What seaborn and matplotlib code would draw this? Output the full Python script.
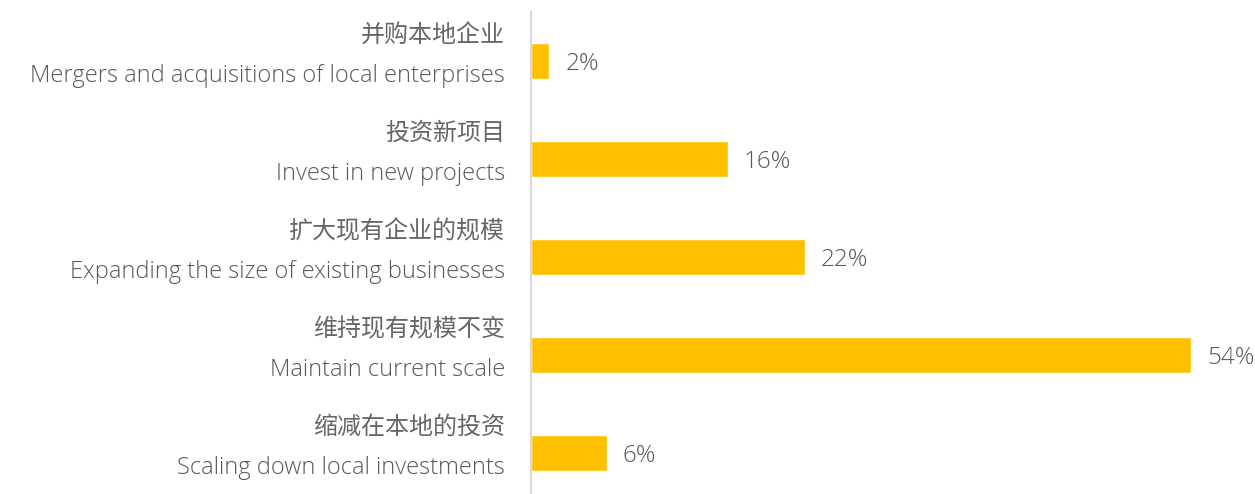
import numpy as np
import pandas as pd
import matplotlib.pyplot as plt
import seaborn as sns

# ── Data ─────────────────────────────────────────────────────────────────────
labels_cn = ["并购本地企业", "投资新项目", "扩大现有企业的规模", "维持现有规模不变", "缩减在本地的投资"]
labels_en = ["Mergers and acquisitions of local enterprises", "Invest in new projects",
             "Expanding the size of existing businesses", "Maintain current scale",
             "Scaling down local investments"]
shares = [1.5, 16.1, 22.4, 54.0, 6.2]
share_labels = ["2%", "16%", "22%", "54%", "6%"]

df = pd.DataFrame({"cat": labels_en, "share": shares})

sns.set_theme(style="white")
plt.rcParams["font.family"] = ["Noto Sans CJK SC", "DejaVu Sans"]

text_color = "#595959"
cn_color = "#666666"
bar_color = "#FFC000"
en_font = ["Open Sans", "Noto Sans CJK SC", "DejaVu Sans"]

px_per_pct = 660 / 54.0
fig = plt.figure(figsize=(12.55, 4.94), dpi=100)
ax = fig.add_axes([531 / 1255, 0, 724 / 1255, 482 / 494])

sns.barplot(data=df, x="share", y="cat", orient="h", color=bar_color,
            width=0.36, saturation=1, ax=ax)

ax.set_xlim(0, 724 / px_per_pct)
ax.set_ylim(4.5 - 8 / 98, -0.5)

for s in ["top", "right", "bottom"]:
    ax.spines[s].set_visible(False)
ax.spines["left"].set_color("#D9D9D9")
ax.spines["left"].set_linewidth(1.5)
ax.set_xticks([])
ax.set_yticks([])
ax.set_xlabel("")
ax.set_ylabel("")

# two-line category labels
for i, (cn, en) in enumerate(zip(labels_cn, labels_en)):
    ax.annotate(cn, xy=(0, i), xycoords="data", xytext=(-26, 26),
                textcoords="offset pixels", ha="right", va="center",
                fontsize=17.3, color=cn_color)
    ax.annotate(en, xy=(0, i), xycoords="data", xytext=(-26, -15),
                textcoords="offset pixels", ha="right", va="center",
                fontsize=17, color=text_color, fontweight="light",
                family=en_font)

# value labels
for i, (v, lab) in enumerate(zip(shares, share_labels)):
    ax.annotate(lab, xy=(v, i), xycoords="data", xytext=(16, -3),
                textcoords="offset pixels", ha="left", va="center",
                fontsize=17.5, color=text_color, fontweight="light",
                family=en_font)

plt.savefig("out.png", dpi=100)
